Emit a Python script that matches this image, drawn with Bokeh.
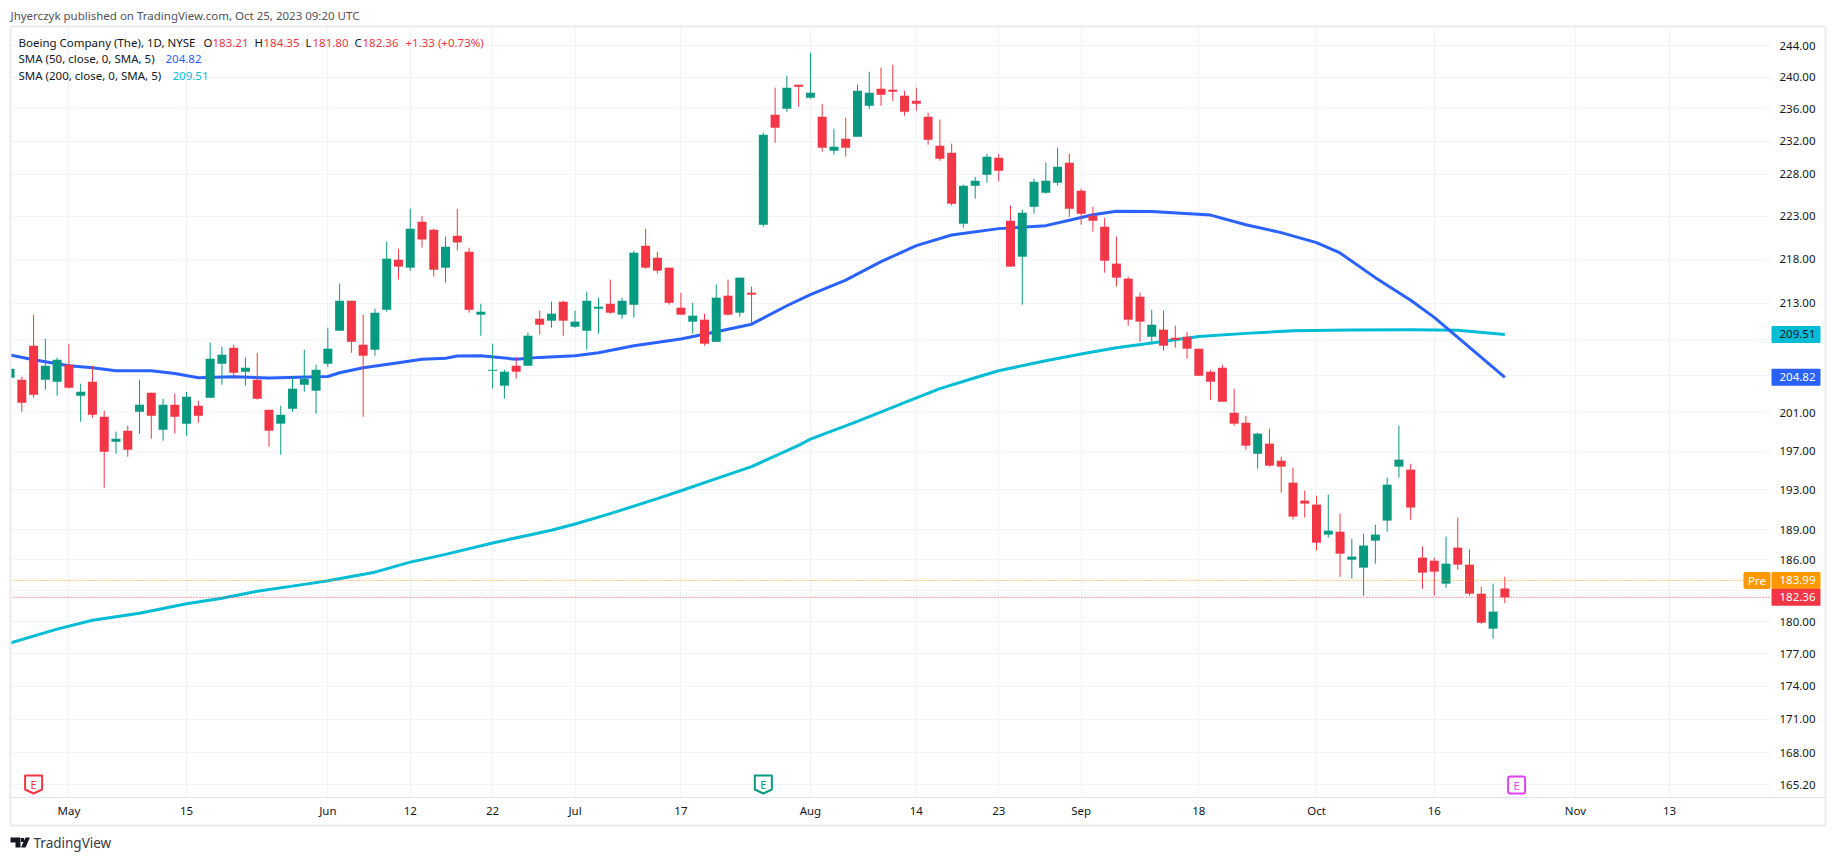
import math
from bokeh.plotting import figure
from bokeh.layouts import column
from bokeh.models import (Range1d, FixedTicker, NumeralTickFormatter, Span, Label,
                          BoxAnnotation, PolyAnnotation)
from bokeh.embed import file_html
from bokeh.resources import INLINE

# ---- data ----
open_ = [204.78,204.56,208.27,204.56,204.35,206.19,202.85,204.35,200.60,197.98,199.13,201.13,203.17,199.24,201.88,199.87,
         201.77,202.63,206.30,208.05,205.43,204.56,201.34,199.87,201.45,204.02,203.38,206.30,209.92,213.27,208.38,207.83,
         212.26,217.94,217.03,222.36,221.43,217.03,220.73,218.87,211.71,205.53,203.92,206.08,206.08,211.26,211.04,213.16,
         210.37,209.92,212.38,212.93,211.71,212.82,219.57,218.17,217.03,212.49,210.93,211.15,208.70,213.84,211.93,214.18,
         222.01,235.28,236.03,239.04,237.41,235.04,230.86,232.32,232.57,236.40,238.54,238.41,237.66,237.03,235.04,231.46,
         230.61,222.13,226.63,227.94,230.01,222.48,218.29,224.13,225.80,226.99,229.40,226.04,223.06,221.78,217.49,215.78,
         213.73,209.26,210.04,209.14,209.26,207.94,205.43,205.86,201.02,199.97,196.72,197.77,196.00,193.74,191.91,191.51,
         188.50,188.79,186.02,185.24,187.90,189.90,195.39,195.08,186.22,185.92,183.68,187.21,185.53,182.71,179.37,183.21]
high = [205.90,204.88,211.71,209.03,206.96,208.49,204.13,206.08,201.24,199.03,199.66,204.56,203.17,202.52,203.06,203.27,
        202.31,208.60,208.16,208.38,206.96,207.50,201.34,201.77,204.88,207.83,206.19,210.26,215.21,213.27,211.71,212.38,
        220.03,219.22,223.89,223.06,221.55,220.62,223.89,219.34,212.93,208.49,205.64,207.06,209.70,212.15,213.16,213.27,
        212.15,214.30,213.62,215.67,213.62,218.99,221.55,218.87,217.03,214.18,213.04,211.82,215.10,215.67,215.89,214.87,
        233.06,238.67,240.18,239.04,243.11,236.65,233.55,234.91,239.04,240.69,241.20,241.58,238.29,238.67,235.53,234.67,
        231.71,226.75,227.70,230.49,230.49,224.25,223.77,227.46,229.40,231.22,230.49,226.27,224.13,222.83,220.62,216.01,
        214.18,212.26,212.15,210.48,209.81,207.94,205.64,206.19,203.60,200.71,198.92,199.34,196.41,195.28,192.92,192.42,
        192.52,190.60,188.10,188.59,189.49,194.26,199.66,195.69,187.31,186.22,188.30,190.20,187.01,183.39,183.68,184.35]
low = [204.50,201.13,202.63,203.49,202.85,203.60,200.08,200.51,193.23,196.72,196.41,198.82,198.29,198.08,198.82,198.61,
       199.97,202.63,204.02,204.67,203.92,202.42,197.45,196.62,201.13,203.27,200.92,205.97,209.92,207.50,200.60,207.17,
       212.04,215.67,216.69,219.34,216.01,215.32,218.99,211.93,209.37,203.60,202.52,204.67,206.08,209.48,210.26,209.37,
       210.26,207.83,209.59,211.82,211.26,211.37,216.92,216.35,212.82,211.71,209.59,208.27,208.70,211.60,211.48,210.71,
       221.78,231.83,235.65,236.28,237.28,230.74,230.37,230.13,232.57,236.03,236.40,237.03,235.16,235.78,231.59,229.64,
       224.25,221.66,225.08,226.99,227.11,217.15,212.82,223.30,225.68,226.63,222.94,222.01,221.20,216.46,214.87,210.48,
       208.70,208.70,207.72,208.05,206.85,204.99,202.42,202.20,199.66,197.14,195.18,195.39,192.72,190.00,190.20,186.91,
       188.20,184.36,184.17,182.52,185.63,188.79,194.26,190.00,183.19,182.52,183.29,185.05,182.52,179.84,178.43,181.80]
close = [205.75,202.10,202.95,206.08,206.74,203.70,203.27,200.81,196.93,198.29,197.14,201.88,200.71,201.88,200.60,202.74,
         200.71,206.85,207.28,205.32,205.86,202.52,199.13,200.81,203.60,204.67,205.64,207.94,213.27,208.70,207.17,211.93,
         218.06,217.15,221.55,220.27,216.80,219.45,219.92,212.26,212.04,205.64,205.43,205.43,209.37,210.59,211.82,211.04,
         210.93,213.27,212.60,211.93,213.27,218.76,217.03,216.69,213.04,211.71,211.60,208.49,213.62,211.71,215.89,213.96,
         232.81,233.68,238.67,238.79,238.04,231.22,231.34,231.22,238.29,238.04,237.79,238.16,235.65,236.65,232.20,229.88,
         224.49,226.63,227.23,230.13,228.43,217.15,223.41,227.11,227.23,228.91,223.89,223.30,222.48,217.83,215.89,211.15,
         210.93,210.59,208.27,208.92,207.94,204.99,204.35,202.20,199.87,197.56,198.82,195.49,195.39,190.30,191.61,187.70,
         188.89,186.61,186.32,187.41,188.50,193.54,196.11,191.21,184.75,184.85,185.63,185.53,182.71,179.93,180.99,182.36]

sma50_i = [0,2,5,7,9,12,14,16,19,22,27,28,30,33,35,37,38,40,43,45,48,50,53,57,60,63,66,68,71,74,77,80,84,88,90,92,94,97,102,105,108,111,113,116,119,121,124,127]
sma50_v = [207.25,206.74,206.08,205.86,205.53,205.53,205.24,204.77,204.88,204.74,204.91,205.32,205.86,206.41,206.79,206.90,207.14,207.17,206.79,206.99,207.17,207.50,208.27,209.00,209.81,210.65,212.71,213.96,215.61,217.72,219.57,220.81,221.55,221.90,222.53,223.18,223.59,223.57,223.14,222.01,221.08,219.92,218.72,215.89,213.33,211.41,208.08,204.82]
sma200_i = [0,4,7,11,15,18,21,25,27,31,34,37,41,46,48,51,55,57,60,63,67,68,72,77,79,82,84,88,91,94,97,101,105,109,114,119,123,127]
sma200_v = [178.02,179.32,180.17,180.84,181.75,182.28,182.95,183.61,183.97,184.80,185.78,186.54,187.67,188.94,189.56,190.60,192.11,192.92,194.15,195.39,197.60,198.24,200.11,202.60,203.60,204.77,205.53,206.63,207.36,208.05,208.56,209.29,209.63,209.92,210.00,210.03,209.98,209.51]

price_ticks = [244,240,236,232,228,223,218,213,201,197,193,189,186,180,177,174,171,168,165.2]
grid_only_ticks = [209,205,183]
time_ticks = [5,15,27,34,41,48,57,68,77,84,91,101,111,121,133,141]
time_labels = ["May","15","Jun","12","22","Jul","17","Aug","14","23","Sep","18","Oct","16","Nov","13"]
earnings_i = [2,64,128]
pre_price = 183.99

GREEN, RED, BLUE, CYAN, ORANGE, PINK = "#089981", "#F23645", "#2962FF", "#00BCD4", "#FF9800", "#E040FB"
INK = "#131722"
GRID = "#F0F3FA"
FRAME = "#EBEBF3"
FONT = "Noto Sans"

# page-pixel layout of the pane
L, R, T, B = 10, 1771, 26, 797
BAR = 11.77
Y_A, V_A, K = 784.0, 165.2, 1894.0
def py(v):
    return Y_A - K * math.log(v / V_A)
def pv(y):
    return V_A * math.exp((Y_A - y) / K)

p = figure(width=1835, height=860, output_backend="svg", toolbar_location=None,
           y_axis_type="log", y_axis_location="right",
           x_range=Range1d(0.038, 0.038 + (R - L) / BAR),
           y_range=Range1d(pv(B), pv(T)),
           min_border_left=L, min_border_right=1835 - R, min_border_top=T, min_border_bottom=860 - B,
           frame_align=False)
p.outline_line_color = None
p.background_fill_color = "white"
p.border_fill_color = "white"

# axes
ya = p.yaxis[0]
ya.ticker = FixedTicker(ticks=price_ticks)
ya.formatter = NumeralTickFormatter(format="0.00")
ya.major_tick_line_color = None
ya.major_tick_out = 0
ya.major_tick_in = 0
ya.minor_tick_line_color = None
ya.axis_line_color = None
ya.major_label_text_font = FONT
ya.major_label_text_font_size = "11.5px"
ya.major_label_text_color = INK
ya.major_label_standoff = 8
xa = p.xaxis[0]
xa.ticker = FixedTicker(ticks=time_ticks)
xa.major_label_overrides = dict(zip(time_ticks, time_labels))
xa.major_tick_line_color = None
xa.major_tick_out = 0
xa.major_tick_in = 0
xa.minor_tick_line_color = None
xa.axis_line_color = "#E0E3EB"
xa.major_label_text_font = FONT
xa.major_label_text_font_size = "11.5px"
xa.major_label_text_color = INK
xa.major_label_standoff = 5
p.ygrid[0].ticker = FixedTicker(ticks=price_ticks + grid_only_ticks)
p.xgrid[0].ticker = FixedTicker(ticks=time_ticks)
p.ygrid[0].grid_line_color = GRID
p.xgrid[0].grid_line_color = GRID

# moving averages under the candles
p.line(sma200_i, sma200_v, line_color=CYAN, line_width=3, line_join="round")
p.line(sma50_i, sma50_v, line_color=BLUE, line_width=3, line_join="round")

# candles
idx = list(range(len(close)))
cols = [GREEN if c >= o else RED for o, c in zip(open_, close)]
p.segment(idx, high, idx, low, line_color=cols, line_width=1)
p.vbar(x=idx, top=[max(o, c) for o, c in zip(open_, close)], bottom=[min(o, c) for o, c in zip(open_, close)],
       width=9 / BAR, fill_color=cols, line_color=None)

# last-price and pre-market lines
p.add_layout(Span(location=pre_price, dimension="width", line_color=ORANGE, line_width=1, line_dash="1 2"))
p.add_layout(Span(location=close[-1], dimension="width", line_color=RED, line_width=1, line_dash="1 2"))

# earnings markers
def shield(i, color):
    h = 8.5 / BAR
    p.add_layout(PolyAnnotation(xs=[i - h, i + h, i + h, i, i - h], ys=[775, 775, 789, 793, 789],
                                xs_units="data", ys_units="canvas", fill_color="white", fill_alpha=1,
                                line_color=color, line_alpha=1, line_width=2, line_join="round"))
    p.add_layout(Label(x=i, y=784, x_units="data", y_units="canvas", text="E", text_color=color, text_font=FONT,
                       text_font_size="11px", text_align="center", text_baseline="middle"))
shield(earnings_i[0], RED)
shield(earnings_i[1], GREEN)
h = 8.5 / BAR
i = earnings_i[2]
p.add_layout(BoxAnnotation(left=i - h, right=i + h, top=776, bottom=793, left_units="data", right_units="data",
                           top_units="canvas", bottom_units="canvas", fill_color="white", fill_alpha=1,
                           line_color=PINK, line_alpha=1, line_width=2, border_radius=2))
p.add_layout(Label(x=i, y=784.5, x_units="data", y_units="canvas", text="E", text_color=PINK, text_font=FONT,
                   text_font_size="11px", text_align="center", text_baseline="middle"))

# transparent sheet over the whole page for everything outside the pane
q = figure(width=1835, height=860, output_backend="svg", toolbar_location=None,
           x_range=Range1d(0, 1835), y_range=Range1d(860, 0),
           x_axis_location=None, y_axis_location=None,
           min_border=0, margin=(-860, 0, 0, 0), frame_align=False)
q.outline_line_color = None
q.background_fill_color = None
q.border_fill_color = None
q.grid.visible = False

def text(s, x, y, color=INK, size="11.5px", align="left"):
    q.add_layout(Label(x=x, y=y, x_units="canvas", y_units="canvas", text=s, text_color=color,
                       text_font=FONT, text_font_size=size, text_align=align, text_baseline="middle"))

def box(x0, x1, y0, y1, fill, radius=0):
    q.add_layout(BoxAnnotation(left=x0, right=x1, top=y0, bottom=y1,
                               left_units="canvas", right_units="canvas", top_units="canvas", bottom_units="canvas",
                               fill_color=fill, fill_alpha=1, line_color=None, border_radius=radius))

# price tags on the scale
def tag(v, fill, ink):
    y = py(v)
    box(1771, 1820, y - 8.5, y + 8.5, fill, 1)
    text(f"{v:.2f}", 1779, y, ink)
tag(sma200_v[-1], CYAN, INK)
tag(sma50_v[-1], BLUE, "white")
tag(pre_price, ORANGE, "white")
tag(close[-1], RED, "white")
y_pre = py(pre_price)
box(1743, 1770, y_pre - 8.5, y_pre + 8.5, ORANGE, 2)
text("Pre", 1756.5, y_pre, "white", align="center")

# pane frame
q.add_layout(BoxAnnotation(left=10, right=1825, top=26, bottom=825,
                           left_units="canvas", right_units="canvas", top_units="canvas", bottom_units="canvas",
                           fill_alpha=0, line_color=FRAME, line_alpha=1, line_width=2))
box(1771, 1825, 796.5, 797.5, "#E0E3EB")

# header
text("Jhyerczyk published on TradingView.com, Oct 25, 2023 09:20 UTC", 10, 15, "#50535E")
text("Boeing Company (The), 1D, NYSE", 18, 42)
for s, x, c in [("O", 203, INK), (f"{open_[-1]:.2f}", 212, RED), ("H", 254, INK), (f"{high[-1]:.2f}", 263, RED),
                ("L", 305, INK), (f"{low[-1]:.2f}", 312, RED), ("C", 354, INK), (f"{close[-1]:.2f}", 362, RED),
                ("+1.33 (+0.73%)", 405, RED)]:
    text(s, x, 42, c)
text("SMA (50, close, 0, SMA, 5)", 18, 58)
text(f"{sma50_v[-1]:.2f}", 165, 58, BLUE)
text("SMA (200, close, 0, SMA, 5)", 18, 75)
text(f"{sma200_v[-1]:.2f}", 172, 75, CYAN)

# TradingView logo
def shape(xs, ys):
    q.add_layout(PolyAnnotation(xs=xs, ys=ys, xs_units="canvas", ys_units="canvas",
                                fill_color=INK, fill_alpha=1, line_color=None))
shape([10, 20, 20, 15, 15, 10], [837, 837, 847, 847, 842, 842])
shape([20.5, 23.5, 23.5, 20.5], [837.5, 837.5, 841.5, 841.5])
shape([25, 29.5, 25, 20.5], [837, 837, 847, 847])
text("TradingView", 33, 842, "#363A45", size="13.5px")

page = column(p, q)
open("out.html", "w").write(file_html(page, INLINE))
